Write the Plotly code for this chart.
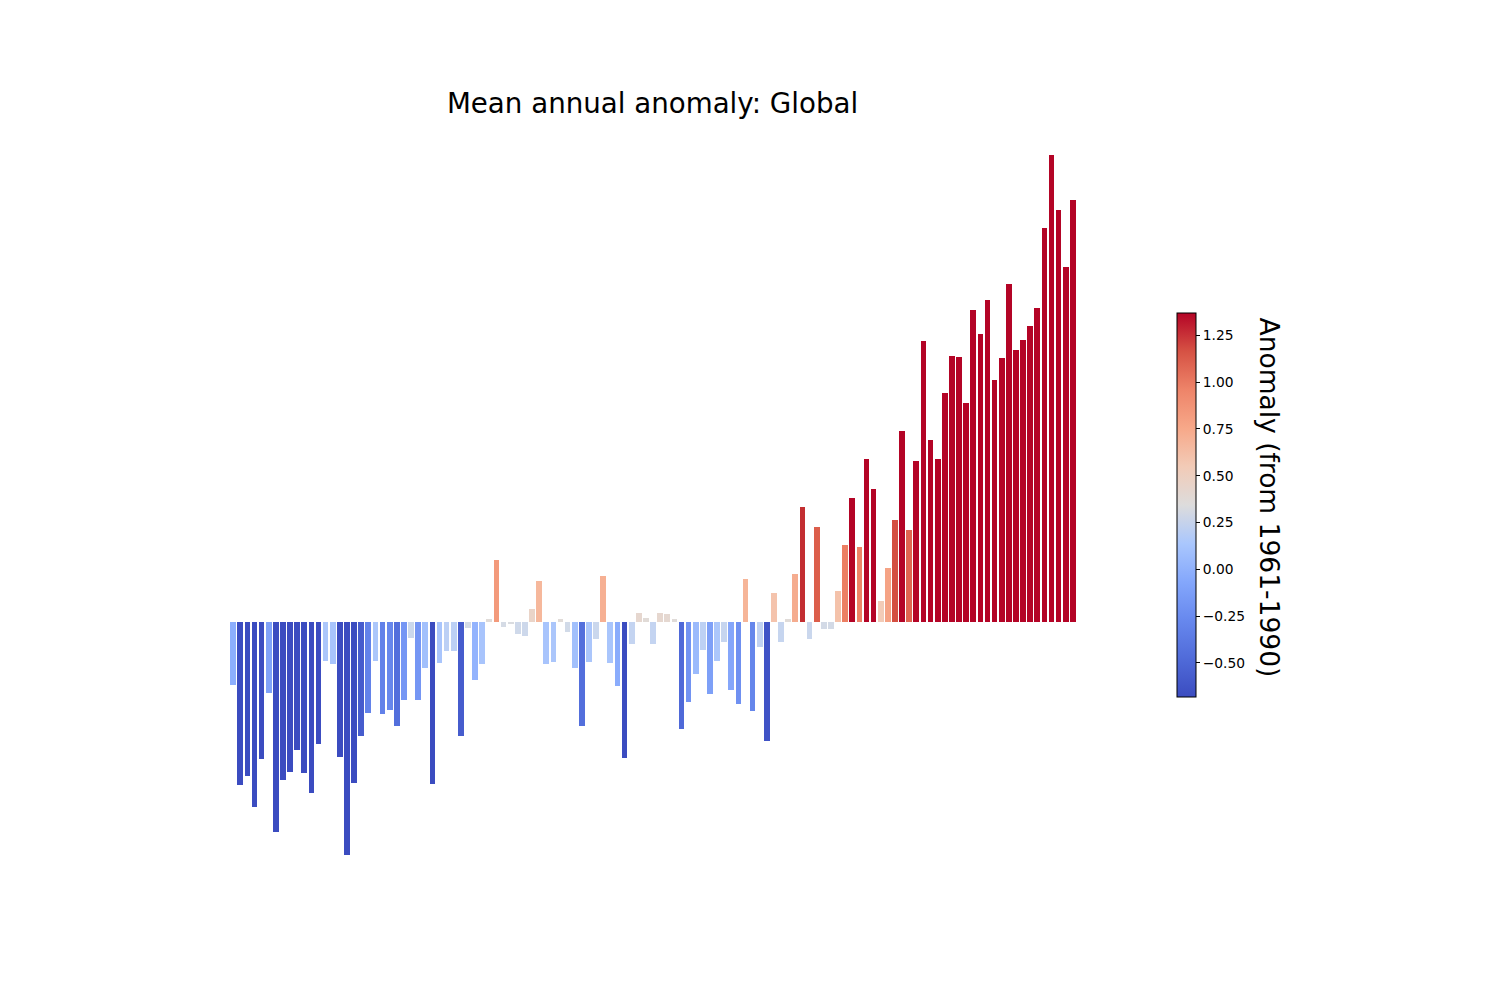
import plotly.graph_objects as go

# one bar per year
years = list(range(1901, 2020))
anomaly = [
    -0.185, -0.478, -0.452, -0.543, -0.402, -0.208, -0.616, -0.463, -0.440, -0.375,
    -0.443, -0.501, -0.358, -0.114, -0.123, -0.396, -0.683, -0.472, -0.334, -0.267,
    -0.114, -0.270, -0.258, -0.305, -0.229, -0.047, -0.229, -0.135, -0.475, -0.120,
    -0.085, -0.085, -0.334, -0.018, -0.170, -0.123, 0.009, 0.182, -0.015, -0.006,
    -0.035, -0.041, 0.038, 0.120, -0.123, -0.117, 0.009, -0.029, -0.135, -0.305,
    -0.117, -0.050, 0.135, -0.120, -0.188, -0.399, -0.065, 0.026, 0.012, -0.065,
    0.026, 0.023, 0.009, -0.314, -0.235, -0.152, -0.082, -0.211, -0.114, -0.059,
    -0.199, -0.240, 0.126, -0.261, -0.073, -0.349, 0.085, -0.059, 0.009, 0.141,
    0.337, -0.050, 0.279, -0.021, -0.021, 0.091, 0.226, 0.364, 0.220, 0.478,
    0.390, 0.062, 0.158, 0.299, 0.560, 0.270, 0.472, 0.824, 0.534, 0.478,
    0.672, 0.780, 0.777, 0.642, 0.915, 0.845, 0.944, 0.710, 0.774, 0.991,
    0.798, 0.827, 0.868, 0.921, 1.155, 1.370, 1.208, 1.041, 1.238,
]
cbar_ticks = [-0.5, -0.25, 0.0, 0.25, 0.5, 0.75, 1.0, 1.25]

# matplotlib "coolwarm", approximated
coolwarm = [
    [0.0, '#3b4cc0'], [0.1, '#506bd9'], [0.2, '#6788ee'], [0.3, '#84a7fc'],
    [0.4, '#aac7fd'], [0.5, '#dddcdc'], [0.6, '#f2cbb7'], [0.7, '#f7a889'],
    [0.8, '#ee8469'], [0.9, '#d65244'], [1.0, '#b40426'],
]

# bar colours saturate quickly (roughly +-0.36), so they get their own scale
bar_lo, bar_hi = -0.36, 0.36
bar_stops = [
    (-0.36, '#3b4cc0'), (-0.30, '#5572df'), (-0.25, '#6a8bef'), (-0.185, '#8caefd'),
    (-0.12, '#a9c5fc'), (-0.085, '#bcd0f5'), (-0.045, '#ccd8ec'), (-0.015, '#d5dbe5'),
    (0.0, '#dddcdc'), (0.01, '#e0dbd8'), (0.038, '#ead4c8'), (0.062, '#f2cbb7'),
    (0.12, '#f6b89c'), (0.158, '#f5a385'), (0.182, '#f39a7b'), (0.226, '#ec7f63'),
    (0.27, '#e06550'), (0.30, '#d44e41'), (0.337, '#c32e31'), (0.36, '#b40426'),
]
bar_scale = [[(v - bar_lo) / (bar_hi - bar_lo), c] for v, c in bar_stops]

fig = go.Figure()

fig.add_trace(
    go.Bar(x=years, y=anomaly, width=0.8,
           marker=dict(color=anomaly, colorscale=bar_scale, cmin=bar_lo, cmax=bar_hi,
                       line=dict(width=0), showscale=False),
           hovertemplate='%{x}: %{y:.2f}<extra></extra>')
)

# invisible trace just to carry the colorbar over the full data range
fig.add_trace(
    go.Scatter(x=[None, None], y=[None, None], mode='markers', showlegend=False,
               hoverinfo='skip',
               marker=dict(color=[min(anomaly), max(anomaly)], colorscale=coolwarm,
                           cmin=min(anomaly), cmax=max(anomaly), showscale=True,
                           colorbar=dict(x=1.0634, xanchor='left', y=0.5, yanchor='middle',
                                         len=0.4987, lenmode='fraction', thickness=19,
                                         xpad=0, ypad=0, outlinewidth=1, outlinecolor='black',
                                         ticks='outside', ticklen=4, tickwidth=1, tickcolor='black',
                                         tickvals=cbar_ticks,
                                         ticktext=['{:.2f}'.format(t).replace('-', '\u2212') for t in cbar_ticks],
                                         tickfont=dict(family='DejaVu Sans', size=13.8, color='black')))))

x0 = years[0]
fig.update_xaxes(range=[x0 - 6.34, x0 + 124.34], visible=False, showgrid=False, zeroline=False)
fig.update_yaxes(range=[-0.786, 1.473], visible=False, showgrid=False, zeroline=False)

fig.add_annotation(text='Anomaly (from 1961-1990)', xref='paper', yref='paper',
                   x=1.1624, y=0.5097, xanchor='center', yanchor='middle', textangle=90,
                   showarrow=False, font=dict(family='DejaVu Sans', size=26.5, color='black'))

# the page body adds 8px on the left and top, so the margins are shifted by that
fig.update_layout(
    title=dict(text='Mean annual anomaly: Global', x=0.4995, xref='paper', xanchor='center',
               y=1 - 95 / 1000, yref='container', yanchor='middle',
               font=dict(family='DejaVu Sans', size=27.7, color='black')),
    width=1500, height=1000, autosize=False,
    margin=dict(l=180, r=390, t=112, b=118),
    plot_bgcolor='white', paper_bgcolor='white',
    bargap=0, showlegend=False,
)

fig.write_html("out.html")
